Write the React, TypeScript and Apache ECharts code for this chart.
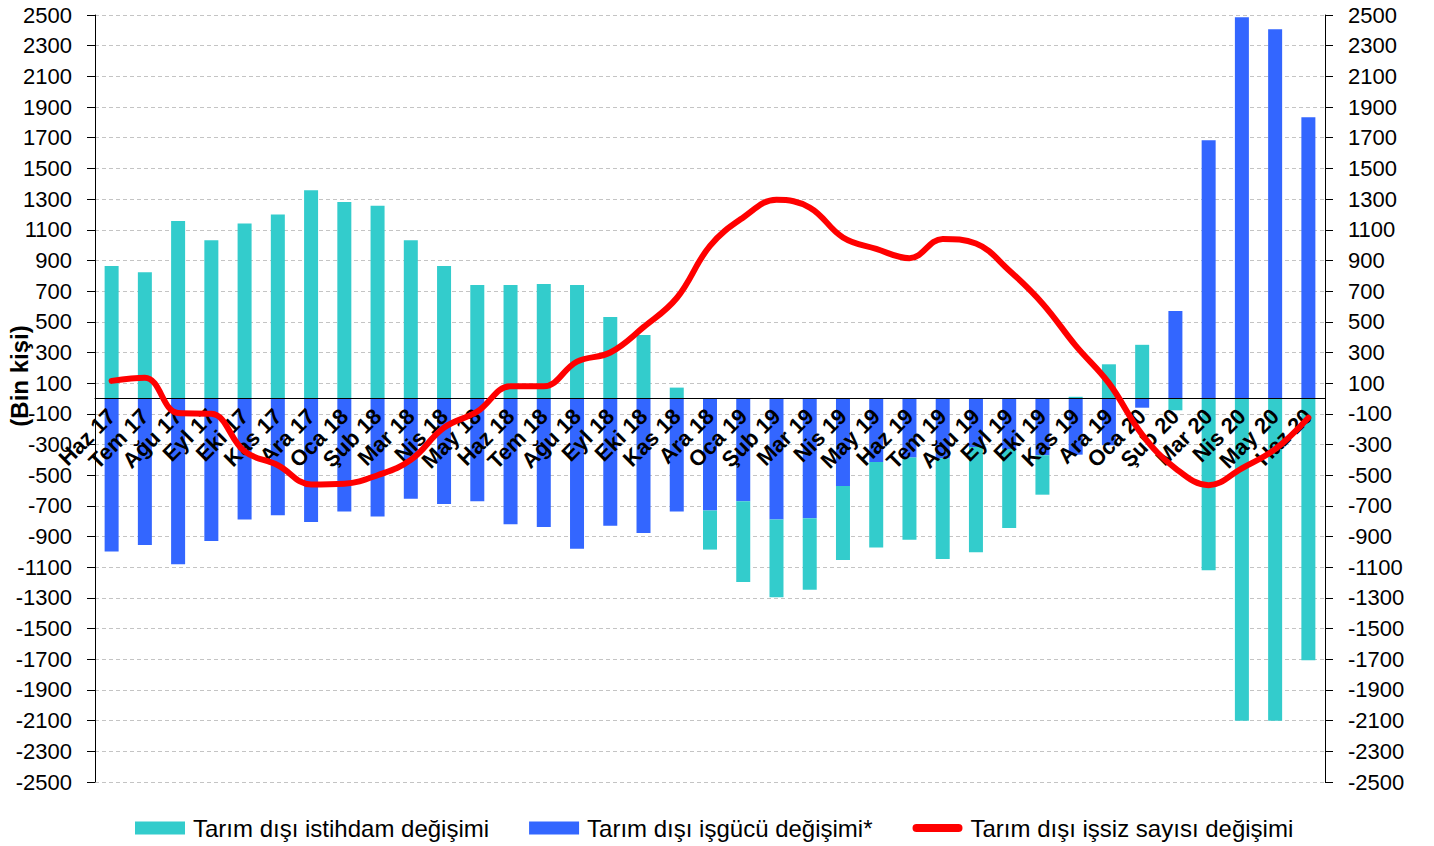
import React, { useEffect, useRef } from 'react';
import * as echarts from 'echarts';

const categories = [
  'Haz 17', 'Tem 17', 'Ağu 17', 'Eyl 17', 'Eki 17', 'Kas 17', 'Ara 17',
  'Oca 18', 'Şub 18', 'Mar 18', 'Nis 18', 'May 18', 'Haz 18', 'Tem 18', 'Ağu 18', 'Eyl 18', 'Eki 18', 'Kas 18', 'Ara 18',
  'Oca 19', 'Şub 19', 'Mar 19', 'Nis 19', 'May 19', 'Haz 19', 'Tem 19', 'Ağu 19', 'Eyl 19', 'Eki 19', 'Kas 19', 'Ara 19',
  'Oca 20', 'Şub 20', 'Mar 20', 'Nis 20', 'May 20', 'Haz 20',
];

// Teal bars (stacked segment after the blue one)
const employmentChange = [
  864, 823, 1157, 1031, 1140, 1199, 1357,
  1281, 1257, 1031, 864, 740, 740, 746, 740, 531, 414, 71, -255,
  -526, -508, -465, -483, -558, -535, -656, -687, -514, -257, 11, 223,
  350, -77, -1120, -2100, -2100, -1707,
];

// Blue bars (first in the stack, nearest zero)
const labourForceChange = [
  -998, -955, -1081, -929, -788, -761, -805,
  -737, -770, -653, -688, -670, -820, -838, -979, -829, -877, -737, -730,
  -670, -788, -781, -570, -414, -385, -390, -316, -330, -370, -366, -305,
  -60, 570, 1683, 2485, 2407, 1833,
];

// Red line
const unemployedChange = [
  115, 135, -95, -100, -345, -435, -560,
  -555, -500, -400, -190, -85, 80, 80, 240, 300, 465, 655, 995,
  1180, 1295, 1245, 1050, 975, 915, 1040, 1010, 835, 620, 345, 100,
  -235, -455, -565, -455, -330, -125,
];

const yMin = -2500;
const yMax = 2500;
const yStep = 200;

const NAME_EMP = 'Tarım dışı istihdam değişimi';
const NAME_LF = 'Tarım dışı işgücü değişimi*';
const NAME_UNEMP = 'Tarım dışı işsiz sayısı değişimi';

export default function App() {
  const ref = useRef<HTMLDivElement>(null);

  useEffect(() => {
    if (!ref.current) return;
    const chart = echarts.init(ref.current, null, { renderer: 'svg' });
    const font = '"Liberation Sans", Arial, sans-serif';

    const gridTop = 15;
    const gridBottom = 64;
    const gridHeight = 846 - gridTop - gridBottom;
    // the value range is symmetric, so the zero line sits half way up the grid
    const zeroOffset = -gridHeight * (0 - yMin) / (yMax - yMin);

    const yAxisBase = (position: string) => ({
      type: 'value',
      position,
      min: yMin,
      max: yMax,
      interval: yStep,
      axisLine: { show: true, onZero: false, lineStyle: { color: '#000', width: 1 } },
      axisTick: { show: true, length: 8, lineStyle: { color: '#000', width: 1 } },
      axisLabel: {
        color: '#000',
        fontSize: 22,
        fontFamily: font,
        margin: 23,
        formatter: (v: number) => String(v),
      },
    });

    chart.setOption({
      animation: false,
      backgroundColor: '#fff',
      grid: { left: 95, right: 109, top: gridTop, bottom: gridBottom },
      xAxis: [
        {
          type: 'category',
          data: categories,
          z: 10,
          axisLine: { show: true, onZero: true, lineStyle: { color: '#000', width: 1 } },
          axisTick: { show: false },
          splitLine: { show: false },
          axisLabel: { show: false },
        },
        {
          type: 'category',
          data: categories,
          position: 'bottom',
          offset: zeroOffset,
          z: 10,
          axisLine: { show: false, onZero: false },
          axisTick: { show: false },
          splitLine: { show: false },
          axisLabel: {
            interval: 0,
            rotate: 45,
            fontSize: 22,
            fontWeight: 'bold',
            color: '#000',
            fontFamily: font,
            margin: 14,
          },
        },
      ],
      yAxis: [
        {
          ...yAxisBase('left'),
          splitLine: { show: true, lineStyle: { color: '#c4c4c4', type: [4, 3], width: 1 } },
        },
        { ...yAxisBase('right'), splitLine: { show: false } },
      ],
      legend: {
        left: 130,
        top: 811,
        itemWidth: 50,
        itemHeight: 13,
        itemGap: 40,
        textStyle: { fontSize: 24, color: '#000', fontFamily: font, padding: [0, 0, 0, 3] },
        data: [
          { name: NAME_EMP, icon: 'rect' },
          { name: NAME_LF, icon: 'rect' },
          {
            name: NAME_UNEMP,
            icon: 'path://M4.5,0 L50.5,0 A4.5,4.5 0 0 1 50.5,9 L4.5,9 A4.5,4.5 0 0 1 4.5,0 Z',
            itemStyle: { color: '#FF0000' },
          },
        ],
      },
      series: [
        {
          name: NAME_LF,
          type: 'bar',
          stack: 'total',
          data: labourForceChange,
          barWidth: 14,
          itemStyle: { color: '#3366FF' },
        },
        {
          name: NAME_EMP,
          type: 'bar',
          stack: 'total',
          data: employmentChange,
          barWidth: 14,
          itemStyle: { color: '#33CCCC' },
        },
        {
          name: NAME_UNEMP,
          type: 'line',
          data: unemployedChange,
          smooth: 0.4,
          symbol: 'none',
          showSymbol: false,
          z: 20,
          lineStyle: { color: '#FF0000', width: 6, cap: 'round', join: 'round' },
          itemStyle: { color: '#FF0000' },
        },
      ],
      graphic: [
        {
          type: 'text',
          x: 19,
          y: 376,
          rotation: Math.PI / 2,
          z: 100,
          style: {
            text: '(Bin kişi)',
            font: 'bold 24px "Liberation Sans", Arial, sans-serif',
            fill: '#000',
            align: 'center',
            verticalAlign: 'middle',
          },
        },
      ],
    });

    return () => chart.dispose();
  }, []);

  return (
    <div
      ref={ref}
      style={{ position: 'fixed', left: 0, top: 0, width: 1434, height: 846, background: '#fff' }}
    />
  );
}
